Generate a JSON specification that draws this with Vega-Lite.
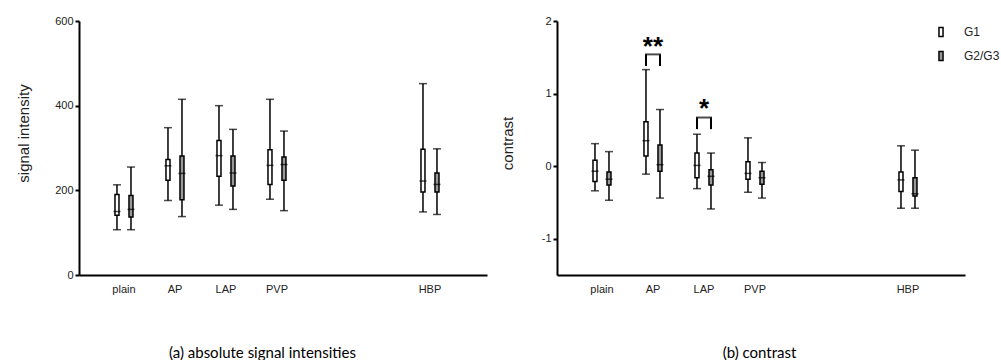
{
  "$schema": "https://vega.github.io/schema/vega-lite/v6.json",
  "background": "white",
  "padding": {"left": 16, "top": 15, "right": 0, "bottom": 0},
  "datasets": {
    "si": [
      {"phase": "plain", "group": "G1", "min": 107, "q1": 141, "median": 150, "q3": 190, "max": 213},
      {"phase": "plain", "group": "G2/G3", "min": 107, "q1": 137, "median": 155, "q3": 188, "max": 255},
      {"phase": "AP", "group": "G1", "min": 176, "q1": 224, "median": 258, "q3": 273, "max": 348},
      {"phase": "AP", "group": "G2/G3", "min": 138, "q1": 178, "median": 240, "q3": 281, "max": 415},
      {"phase": "LAP", "group": "G1", "min": 165, "q1": 233, "median": 282, "q3": 318, "max": 400},
      {"phase": "LAP", "group": "G2/G3", "min": 155, "q1": 210, "median": 241, "q3": 281, "max": 344},
      {"phase": "PVP", "group": "G1", "min": 179, "q1": 214, "median": 259, "q3": 296, "max": 415},
      {"phase": "PVP", "group": "G2/G3", "min": 152, "q1": 224, "median": 261, "q3": 279, "max": 340},
      {"phase": "HBP", "group": "G1", "min": 149, "q1": 196, "median": 222, "q3": 297, "max": 452},
      {"phase": "HBP", "group": "G2/G3", "min": 143, "q1": 196, "median": 214, "q3": 241, "max": 298}
    ],
    "ct": [
      {"phase": "plain", "group": "G1", "min": -0.34, "q1": -0.21, "median": -0.07, "q3": 0.08, "max": 0.31},
      {"phase": "plain", "group": "G2/G3", "min": -0.47, "q1": -0.26, "median": -0.18, "q3": -0.08, "max": 0.20},
      {"phase": "AP", "group": "G1", "min": -0.11, "q1": 0.14, "median": 0.35, "q3": 0.61, "max": 1.33},
      {"phase": "AP", "group": "G2/G3", "min": -0.44, "q1": -0.07, "median": 0.02, "q3": 0.29, "max": 0.78},
      {"phase": "LAP", "group": "G1", "min": -0.31, "q1": -0.16, "median": 0.01, "q3": 0.18, "max": 0.44},
      {"phase": "LAP", "group": "G2/G3", "min": -0.59, "q1": -0.26, "median": -0.14, "q3": -0.05, "max": 0.18},
      {"phase": "PVP", "group": "G1", "min": -0.36, "q1": -0.18, "median": -0.10, "q3": 0.06, "max": 0.39},
      {"phase": "PVP", "group": "G2/G3", "min": -0.44, "q1": -0.25, "median": -0.16, "q3": -0.07, "max": 0.05},
      {"phase": "HBP", "group": "G1", "min": -0.58, "q1": -0.35, "median": -0.19, "q3": -0.08, "max": 0.28},
      {"phase": "HBP", "group": "G2/G3", "min": -0.58, "q1": -0.41, "median": -0.38, "q3": -0.16, "max": 0.22}
    ],
    "legs": [
      {"phase": "AP", "group": "G1", "lo": 1.38, "hi": 1.54},
      {"phase": "AP", "group": "G2/G3", "lo": 1.38, "hi": 1.54},
      {"phase": "LAP", "group": "G1", "lo": 0.51, "hi": 0.67},
      {"phase": "LAP", "group": "G2/G3", "lo": 0.51, "hi": 0.67}
    ],
    "stars": [
      {"phase": "AP", "star": "**", "top": 1.54, "sy": 1.73},
      {"phase": "LAP", "star": "*", "top": 0.67, "sy": 0.87}
    ]
  },
  "config": {
    "view": {"stroke": null},
    "font": "Liberation Sans",
    "axis": {
      "domainColor": "black", "domainWidth": 2,
      "tickColor": "black", "tickWidth": 2, "tickSize": 4,
      "labelColor": "#222", "labelFontSize": 11, "labelFont": "Liberation Sans",
      "titleFont": "Liberation Sans", "titleFontSize": 15, "titleFontWeight": "normal", "titleColor": "#222",
      "grid": false
    },
    "concat": {"spacing": 13}
  },
  "resolve": {"scale": {"x": "independent", "y": "independent", "fill": "independent"}, "legend": {"fill": "independent"}},
  "hconcat": [
    {
      "width": 408, "height": 254,
      "data": {"name": "si"},
      "encoding": {
        "x": {
          "field": "phase", "type": "nominal",
          "scale": {"domain": ["plain", "AP", "LAP", "PVP", "gap1", "gap2", "HBP"], "paddingInner": 0.451, "paddingOuter": 0.7255, "align": 0.4187},
          "axis": {
            "title": "(a) absolute signal intensities", "titleFont": "Lato", "titleFontSize": 15, "titleColor": "black",
            "titlePadding": 51, "titleX": 183,
            "ticks": false, "labelDx": 7, "labelPadding": 8, "labelAngle": 0,
            "labelExpr": "indexof(['gap1','gap2'], datum.value) >= 0 ? '' : datum.value"
          }
        }
      },
      "layer": [
        {
          "mark": {"type": "rule", "color": "black", "strokeWidth": 1.5},
          "encoding": {
            "xOffset": {"field": "group", "type": "nominal", "scale": {"domain": ["G1", "G2/G3"], "paddingInner": 0, "paddingOuter": 0}},
            "y": {"field": "min", "type": "quantitative", "title": "signal intensity",
                  "scale": {"domain": [0, 600], "nice": false},
                  "axis": {"values": [0, 200, 400, 600], "titlePadding": 23, "titleY": 112}},
            "y2": {"field": "max"}
          }
        },
        {
          "mark": {"type": "bar", "width": 4, "stroke": "black", "strokeWidth": 1.5},
          "encoding": {
            "xOffset": {"field": "group", "type": "nominal"},
            "y": {"field": "q1", "type": "quantitative", "title": "signal intensity"},
            "y2": {"field": "q3"},
            "fill": {
              "field": "group", "type": "nominal",
              "scale": {"domain": ["G1", "G2/G3"], "range": ["white", "#999999"]},
              "legend": null
            }
          }
        },
        {
          "mark": {"type": "tick", "color": "black", "thickness": 1.5, "size": 7},
          "encoding": {
            "xOffset": {"field": "group", "type": "nominal"},
            "y": {"field": "median", "type": "quantitative", "title": "signal intensity"}
          }
        },
        {
          "mark": {"type": "tick", "color": "black", "thickness": 1.5, "size": 8},
          "encoding": {
            "xOffset": {"field": "group", "type": "nominal"},
            "y": {"field": "min", "type": "quantitative", "title": "signal intensity"}
          }
        },
        {
          "mark": {"type": "tick", "color": "black", "thickness": 1.5, "size": 8},
          "encoding": {
            "xOffset": {"field": "group", "type": "nominal"},
            "y": {"field": "max", "type": "quantitative", "title": "signal intensity"}
          }
        }
      ]
    },
    {
      "width": 408, "height": 254,
      "encoding": {
        "x": {
          "field": "phase", "type": "nominal",
          "scale": {"domain": ["plain", "AP", "LAP", "PVP", "gap1", "gap2", "HBP"], "paddingInner": 0.451, "paddingOuter": 0.7255, "align": 0.4187},
          "axis": {
            "title": "(b) contrast", "titleFont": "Lato", "titleFontSize": 15, "titleColor": "black",
            "titlePadding": 51, "titleX": 202,
            "ticks": false, "labelDx": 7, "labelPadding": 8, "labelAngle": 0,
            "labelExpr": "indexof(['gap1','gap2'], datum.value) >= 0 ? '' : datum.value"
          }
        }
      },
      "layer": [
        {
          "data": {"name": "ct"},
          "mark": {"type": "rule", "color": "black", "strokeWidth": 1.5},
          "encoding": {
            "xOffset": {"field": "group", "type": "nominal", "scale": {"domain": ["G1", "G2/G3"], "paddingInner": 0, "paddingOuter": 0}},
            "y": {"field": "min", "type": "quantitative", "title": "contrast",
                  "scale": {"domain": [-1.5, 2], "nice": false},
                  "axis": {"values": [-1, 0, 1, 2], "labelExpr": "'' + datum.value", "titlePadding": 26, "titleY": 122}},
            "y2": {"field": "max"}
          }
        },
        {
          "data": {"name": "ct"},
          "mark": {"type": "bar", "width": 4, "stroke": "black", "strokeWidth": 1.5},
          "encoding": {
            "xOffset": {"field": "group", "type": "nominal"},
            "y": {"field": "q1", "type": "quantitative", "title": "contrast"},
            "y2": {"field": "q3"},
            "fill": {
              "field": "group", "type": "nominal",
              "scale": {"domain": ["G1", "G2/G3"], "range": ["white", "#999999"]},
              "legend": {
                "title": null, "orient": "none", "legendX": 378, "legendY": 5,
                "symbolType": "M-0.45,-1L0.45,-1L0.45,1L-0.45,1Z", "symbolSize": 81,
                "symbolStrokeColor": "black", "symbolStrokeWidth": 1.5,
                "labelFontSize": 12, "labelFont": "Liberation Sans", "labelColor": "#222",
                "labelOffset": 17, "rowPadding": 8
              }
            }
          }
        },
        {
          "data": {"name": "ct"},
          "mark": {"type": "tick", "color": "black", "thickness": 1.5, "size": 7},
          "encoding": {
            "xOffset": {"field": "group", "type": "nominal"},
            "y": {"field": "median", "type": "quantitative", "title": "contrast"}
          }
        },
        {
          "data": {"name": "ct"},
          "mark": {"type": "tick", "color": "black", "thickness": 1.5, "size": 8},
          "encoding": {
            "xOffset": {"field": "group", "type": "nominal"},
            "y": {"field": "min", "type": "quantitative", "title": "contrast"}
          }
        },
        {
          "data": {"name": "ct"},
          "mark": {"type": "tick", "color": "black", "thickness": 1.5, "size": 8},
          "encoding": {
            "xOffset": {"field": "group", "type": "nominal"},
            "y": {"field": "max", "type": "quantitative", "title": "contrast"}
          }
        },
        {
          "data": {"name": "legs"},
          "mark": {"type": "rule", "color": "black", "strokeWidth": 2},
          "encoding": {
            "xOffset": {"field": "group", "type": "nominal"},
            "y": {"field": "lo", "type": "quantitative", "title": "contrast"},
            "y2": {"field": "hi"}
          }
        },
        {
          "data": {"name": "stars"},
          "mark": {"type": "tick", "color": "black", "thickness": 2, "size": 16},
          "encoding": {
            "y": {"field": "top", "type": "quantitative", "title": "contrast"}
          }
        },
        {
          "data": {"name": "stars"},
          "mark": {"type": "text", "color": "black", "fontSize": 26, "fontWeight": "bold", "font": "Liberation Sans", "baseline": "alphabetic", "dy": 14},
          "encoding": {
            "y": {"field": "sy", "type": "quantitative", "title": "contrast"},
            "text": {"field": "star"}
          }
        }
      ]
    }
  ]
}
